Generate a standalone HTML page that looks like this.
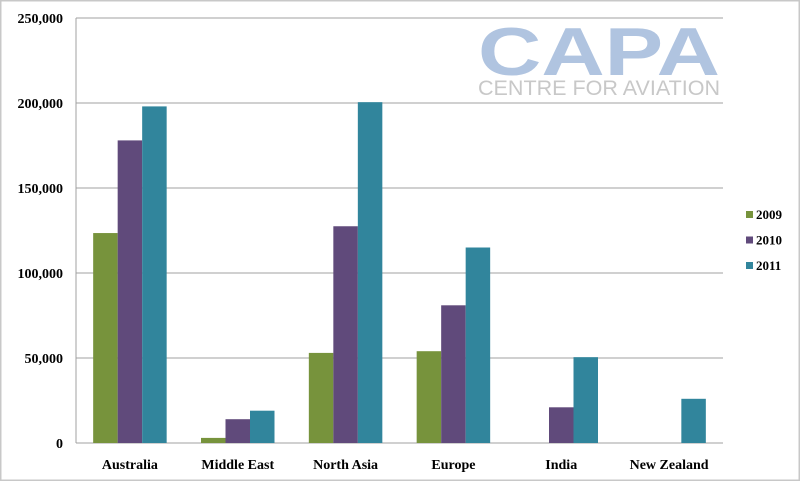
<!DOCTYPE html>
<html><head><meta charset="utf-8"><style>
body{margin:0;background:#fff}
svg{display:block;font-family:"Liberation Serif",serif}
</style></head><body>
<svg width="800" height="481">
<rect x="0.5" y="0.5" width="799" height="480" fill="#fff" stroke="#c8c8c8" stroke-width="2"/>
<g>
<text x="478" y="75" font-family="Liberation Sans,sans-serif" font-weight="bold" font-size="68" fill="#b0c4e0" textLength="242" lengthAdjust="spacingAndGlyphs">CAPA</text>
<text x="478" y="95" font-family="Liberation Sans,sans-serif" font-size="21" fill="#c8c8c8" textLength="242" lengthAdjust="spacingAndGlyphs">CENTRE FOR AVIATION</text>
</g>
<g id="grid"></g><g id="bars"></g><g id="labels"></g><g id="legend"></g>
</svg>
<script>
const categories=["Australia","Middle East","North Asia","Europe","India","New Zealand"];
const seriesNames=["2009","2010","2011"];
const s2009=[123500,3000,53000,54000,0,0];
const s2010=[178000,14000,127500,81000,21000,0];
const s2011=[198000,19000,200500,115000,50500,26000];
const ticks=[0,50000,100000,150000,200000,250000];
const colors=["#77933c","#604a7b","#31859c"];
const NS="http://www.w3.org/2000/svg";
const x0=76,x1=723,y0=443,y1=18,yMax=250000;
const y=v=>y0-(v/yMax)*(y0-y1);
const band=(x1-x0)/categories.length,bw=24.5;
function mk(t,a,p){const e=document.createElementNS(NS,t);for(const k in a)e.setAttribute(k,a[k]);document.getElementById(p).appendChild(e);return e;}
ticks.forEach(t=>{
 const l=mk("line",{x1:x0,x2:x1,y1:y(t),y2:y(t),stroke:"#a0a0a0","stroke-width":1},"grid");
 
 
 const tx=mk("text",{x:63,y:y(t)+5,"text-anchor":"end","font-size":14,"font-weight":"bold"},"labels");
 tx.textContent=t.toLocaleString("en-US");
 
 
});
const ax=mk("line",{x1:x0,x2:x0,y1:y1,y2:y0,stroke:"#a0a0a0"},"grid");


const series=[s2009,s2010,s2011];
categories.forEach((c,i)=>{
 const cx=x0+band*(i+0.5);
 series.forEach((s,j)=>{
  const v=s[i];if(v<=0)return;
  const r=mk("rect",{x:cx-1.5*bw+j*bw,y:y(v),width:bw,height:y0-y(v),fill:colors[j]},"bars");
  
  
 });
 const t=mk("text",{x:cx,y:469,"text-anchor":"middle","font-size":14,"font-weight":"bold"},"labels");
 t.textContent=c;
 
 
});
seriesNames.forEach((n,j)=>{
 const r=mk("rect",{x:746,y:211+j*25.5,width:7,height:7,fill:colors[j]},"legend");
 
 
 const t=mk("text",{x:756,y:219+j*25.5,"font-size":13,"font-weight":"bold"},"legend");
 t.textContent=n;
 
 
});
</script>
</body></html>
